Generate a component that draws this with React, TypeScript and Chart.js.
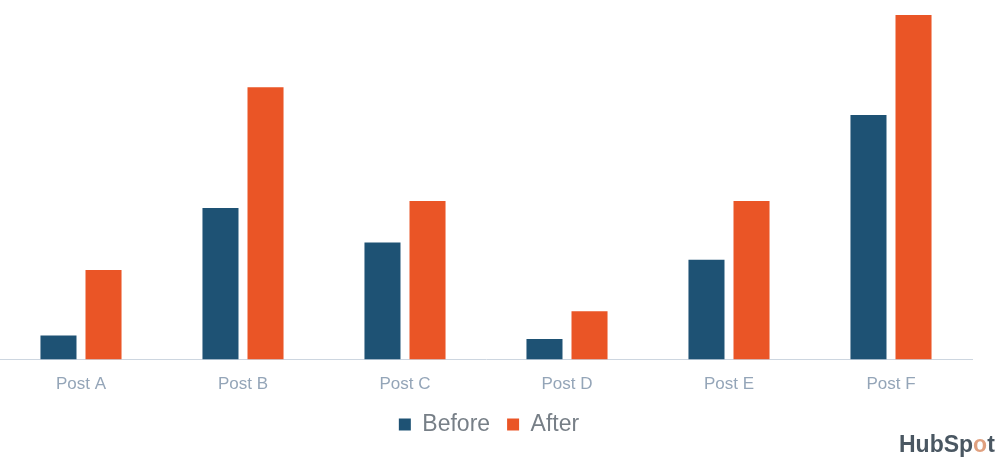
import React, { useEffect, useRef } from "react";
import { Chart, registerables } from "chart.js";

Chart.register(...registerables);

const categories = ["Post A", "Post B", "Post C", "Post D", "Post E", "Post F"];
const beforeValues = [7, 44, 34, 6, 29, 71];
const afterValues = [26, 79, 46, 14, 46, 100];
const seriesNames = ["Before", "After"];

const BLUE = "#1e5274";
const ORANGE = "#ea5526";
const LEGEND_SHIFT = 6;

const brandPlugin = {
  id: "brand",
  afterLayout(chart: any) {
    const lg = chart.legend;
    if (lg) {
      lg.top -= LEGEND_SHIFT;
      lg.bottom -= LEGEND_SHIFT;
      lg.left += 3;
      lg.right += 3;
    }
  },
  afterDraw(chart: any) {
    const ctx = chart.ctx;
    ctx.save();
    ctx.font = "bold 23px 'Liberation Sans', Arial, sans-serif";
    ctx.textBaseline = "alphabetic";
    ctx.textAlign = "left";
    let x = 899;
    const y = 452;
    const parts: [string, string][] = [["HubSp", "#4a5762"], ["o", "#e0a07f"], ["t", "#4a5762"]];
    for (const [t, c] of parts) {
      ctx.fillStyle = c;
      ctx.fillText(t, x, y);
      x += ctx.measureText(t).width;
    }
    ctx.restore();
  },
};

export default function App() {
  const ref = useRef<HTMLCanvasElement>(null);
  useEffect(() => {
    if (!ref.current) return;
    const chart = new Chart(ref.current, {
      type: "bar",
      data: {
        labels: categories,
        datasets: [
          { label: seriesNames[0], data: beforeValues, backgroundColor: BLUE, categoryPercentage: 0.556, barPercentage: 0.8 },
          { label: seriesNames[1], data: afterValues, backgroundColor: ORANGE, categoryPercentage: 0.556, barPercentage: 0.8 },
        ],
      },
      options: {
        animation: false,
        responsive: true,
        maintainAspectRatio: false,
        layout: { padding: { left: 0, right: 28, top: 15, bottom: 7 } },
        plugins: {
          tooltip: { enabled: false },
          legend: {
            position: "bottom",
            labels: {
              boxWidth: 12,
              boxHeight: 12,
              padding: 17,
              color: "#777f87",
              font: { size: 23, family: "'Liberation Sans', Arial, sans-serif" },
            },
          },
        },
        scales: {
          x: {
            grid: { display: false },
            border: { display: true, color: "#cdd6e0", width: 1 },
            ticks: {
              color: "#94a5b8",
              padding: 7,
              font: { size: 17, family: "'Liberation Sans', Arial, sans-serif" },
            },
          },
          y: { display: false, min: 0, max: 100 },
        },
      },
      plugins: [brandPlugin],
    });
    return () => chart.destroy();
  }, []);
  return (
    <div style={{ position: "absolute", left: 0, top: 0, width: 1000, height: 459 }}>
      <canvas ref={ref} />
    </div>
  );
}
